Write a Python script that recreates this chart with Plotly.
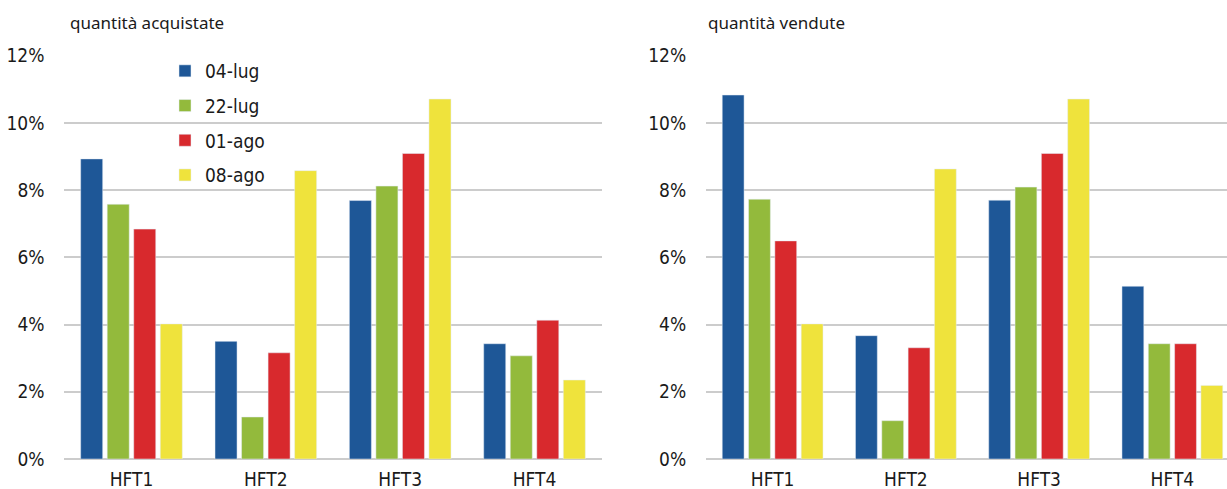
import plotly.graph_objects as go

W, H = 1227, 489

categories = ["HFT1", "HFT2", "HFT3", "HFT4"]
series_names = ["04-lug", "22-lug", "01-ago", "08-ago"]
colors = ["#1E5797", "#93BA3C", "#D8292D", "#EFE33C"]

# quantità acquistate (%)
bought_04lug = [8.93, 3.50, 7.69, 3.43]
bought_22lug = [7.58, 1.25, 8.12, 3.07]
bought_01ago = [6.84, 3.16, 9.09, 4.13]
bought_08ago = [4.02, 8.58, 10.71, 2.35]

# quantità vendute (%)
sold_04lug = [10.83, 3.67, 7.70, 5.14]
sold_22lug = [7.73, 1.14, 8.09, 3.43]
sold_01ago = [6.49, 3.31, 9.09, 3.43]
sold_08ago = [4.02, 8.63, 10.71, 2.19]

bought = [bought_04lug, bought_22lug, bought_01ago, bought_08ago]
sold = [sold_04lug, sold_22lug, sold_01ago, sold_08ago]

tick_font = dict(family="Liberation Sans Narrow, DejaVu Sans Condensed, Arial Narrow, sans-serif",
                 size=19, color="#1a1a1a")
title_font = dict(family="Noto Sans, Open Sans, sans-serif", size=17, color="#1a1a1a")

fig = go.Figure()
for i, name in enumerate(series_names):
    fig.add_trace(go.Bar(x=categories, y=bought[i], name=name, marker_color=colors[i],
                         legendgroup=name, xaxis="x", yaxis="y"))
    fig.add_trace(go.Bar(x=categories, y=sold[i], name=name, marker_color=colors[i],
                         legendgroup=name, showlegend=False, xaxis="x2", yaxis="y2"))

y0 = (H - 459) / H
y1 = (H - 55.7) / H
yaxis_common = dict(range=[0, 12], dtick=2, ticksuffix="%", showgrid=True,
                    gridcolor="#cccccc", gridwidth=1.5, zeroline=True, zerolinecolor="#cccccc",
                    zerolinewidth=1.5, showline=False, ticks="outside", ticklen=15,
                    tickcolor="rgba(0,0,0,0)", tickfont=tick_font, domain=[y0, y1],
                    automargin=False, fixedrange=True)
xaxis_common = dict(showgrid=False, showline=False, ticks="outside", ticklen=3,
                    tickcolor="rgba(0,0,0,0)", tickfont=tick_font, type="category",
                    automargin=False, fixedrange=True)

fig.update_layout(
    width=W, height=H,
    margin=dict(l=0, r=0, t=0, b=0, autoexpand=False),
    plot_bgcolor="white", paper_bgcolor="white",
    barmode="group", bargap=0.21, bargroupgap=0.17,
    xaxis=dict(xaxis_common, domain=[64.3 / W, 601.7 / W], range=[-0.5, 3.5]),
    xaxis2=dict(xaxis_common, domain=[706 / W, 1.0], range=[-0.5, 3.41], anchor="y2"),
    yaxis=dict(yaxis_common, anchor="x"),
    yaxis2=dict(yaxis_common, anchor="x2"),
    legend=dict(x=165 / W, y=(H - 52) / H, xanchor="left", yanchor="top",
                font=tick_font, tracegroupgap=7, bgcolor="rgba(0,0,0,0)"),
    annotations=[
        dict(text="quantità acquistate", x=68 / W, y=(H - 23) / H, xref="paper", yref="paper",
             xanchor="left", yanchor="middle", showarrow=False, font=title_font),
        dict(text="quantità vendute", x=706 / W, y=(H - 23) / H, xref="paper", yref="paper",
             xanchor="left", yanchor="middle", showarrow=False, font=title_font),
    ],
)

# drop the browser's default 8px body margin so the figure sits at the page origin
fig.write_html("out.html", config={"displayModeBar": False},
               post_script="document.body.style.margin='0';")
